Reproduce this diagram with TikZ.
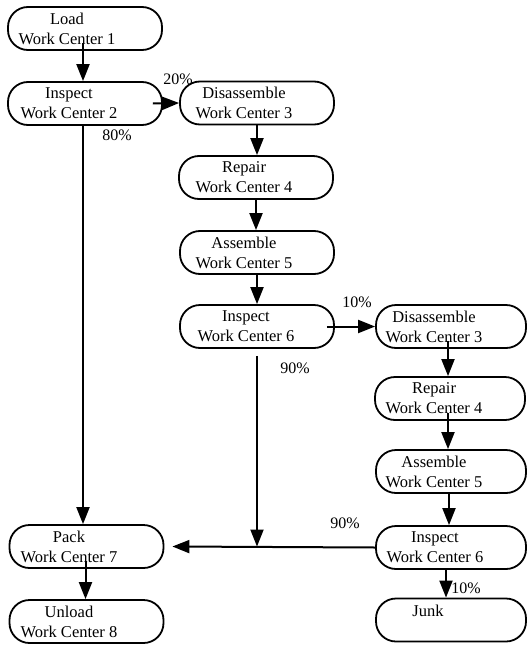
\documentclass[tikz,border=0pt]{standalone}
\usepackage{fontspec}
\setmainfont{Liberation Serif}
\usetikzlibrary{arrows.meta}
\begin{document}
\begin{tikzpicture}[x=1pt,y=-1pt,
 wc/.style={draw, line width=1.8pt, rounded corners=20pt, minimum width=154pt, minimum height=43pt, inner sep=0pt},
 wcr/.style={wc, minimum width=150pt},
 txt/.style={align=center, inner sep=0pt, font=\fontsize{16.5}{20}\selectfont},
 lbl/.style={inner sep=0pt, font=\fontsize{16}{18}\selectfont},
 arr/.style={line width=2pt, -{Triangle[length=17pt,width=13pt]}},
 ln/.style={line width=2pt}]
\useasboundingbox (0,0) rectangle (527,645);
% boxes
\node[wc] (wc1) at (85,28.5) {};
\node[wc] (wc2) at (85,103.5) {};
\node[wc] (dis1) at (257,103) {};
\node[wc] (rep1) at (256,177.5) {};
\node[wc] (asm1) at (257,252.5) {};
\node[wc] (insp1) at (257,326.5) {};
\node[wcr] (dis2) at (451,326.5) {};
\node[wcr] (rep2) at (450,398.5) {};
\node[wcr] (asm2) at (451,471.5) {};
\node[wcr] (insp2) at (451,547.5) {};
\node[wcr] (junk) at (451,620) {};
\node[wc] (pack) at (86.5,546.5) {};
\node[wc] (unload) at (86.5,621.5) {};
% texts
\node[txt] (wc1t) at (67,28.5) {Load\\Work Center 1};
\node[txt] (wc2t) at (69,103.5) {Inspect\\Work Center 2};
\node[txt] (dis1t) at (244,103) {Disassemble\\Work Center 3};
\node[txt] (rep1t) at (244,177.5) {Repair\\Work Center 4};
\node[txt] (asm1t) at (244,252.5) {Assemble\\Work Center 5};
\node[txt] (insp1t) at (246,326.5) {Inspect\\Work Center 6};
\node[txt] (dis2t) at (434,326.5) {Disassemble\\Work Center 3};
\node[txt] (rep2t) at (434,398.5) {Repair\\Work Center 4};
\node[txt] (asm2t) at (434,471.5) {Assemble\\Work Center 5};
\node[txt] (insp2t) at (435,547.5) {Inspect\\Work Center 6};
\node[txt] (junkt) at (428,611) {Junk};
\node[txt] (packt) at (69,546.5) {Pack\\Work Center 7};
\node[txt] (unloadt) at (69,621.5) {Unload\\Work Center 8};
% labels
\node[lbl] (l20) at (178,79) {20\%};
\node[lbl] (l80) at (117,135) {80\%};
\node[lbl] (l10a) at (357,302) {10\%};
\node[lbl] (l90a) at (295,368) {90\%};
\node[lbl] (l90b) at (345,523) {90\%};
\node[lbl] (l10b) at (466,588) {10\%};
% connectors
\draw[arr] ([xshift=-2pt,yshift=8pt]wc1.south) -- ([xshift=-2pt]wc2.north);
\draw[arr] ([xshift=-10pt]wc2.east) -- (dis1.west);
\draw[arr] (dis1.south) -- (dis1.south |- rep1.north);
\draw[arr] (rep1.south) -- (rep1.south |- asm1.north);
\draw[arr] (asm1.south) -- (asm1.south |- insp1.north);
\draw[arr] ([xshift=-8pt]insp1.east) -- (dis2.west);
\draw[arr] ([xshift=-3pt,yshift=8pt]dis2.south) -- ([xshift=-3pt]dis2.south |- rep2.north);
\draw[arr] ([xshift=-2pt,yshift=8pt]rep2.south) -- ([xshift=-2pt]rep2.south |- asm2.north);
\draw[arr] ([xshift=-2pt]asm2.south) -- ([xshift=-2pt]asm2.south |- insp2.north);
\draw[arr] ([xshift=-5pt]insp2.south) -- ([xshift=-5pt]insp2.south |- junk.north);
\draw[arr] ([xshift=-2pt]wc2.south) -- ([xshift=-2pt]wc2.south |- pack.north);
\coordinate (j) at (insp1.south |- pack.east);
\draw[arr] ([yshift=-7pt]insp1.south) -- (j);
\draw[arr] (insp2.west) -- ([xshift=8pt]pack.east);
\draw[arr] ([xshift=-1pt,yshift=8pt]pack.south) -- ([xshift=-1pt]unload.north);
\end{tikzpicture}
\end{document}
